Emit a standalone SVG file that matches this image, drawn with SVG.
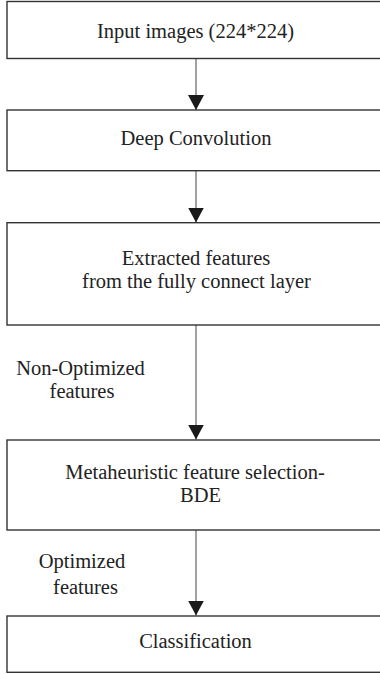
<svg xmlns="http://www.w3.org/2000/svg" width="380" height="674" viewBox="0 0 380 674">
<style>
.box{fill:#fff;stroke:#333;stroke-width:1.4}
.lbl{font-family:"Liberation Serif","DejaVu Serif",serif;font-size:20.5px;fill:#222;text-anchor:middle}
.conn{stroke:#444;stroke-width:1;fill:none;marker-end:url(#ah)}
</style>
<defs>
<marker id="ah" markerUnits="userSpaceOnUse" markerWidth="15" markerHeight="16" viewBox="0 0 15 16" refX="15" refY="8" orient="auto">
<path d="M0,0 L15,8 L0,16 Z" fill="#1a1a1a"/>
</marker>
</defs>
<rect width="380" height="674" fill="#fff"/>
<g id="connectors">
<line class="conn" x1="196" y1="59" x2="196" y2="110"/>
<line class="conn" x1="196" y1="171" x2="196" y2="222.5"/>
<line class="conn" x1="196" y1="325" x2="196" y2="439.5"/>
<line class="conn" x1="196" y1="530" x2="196" y2="615.5"/>
</g>
<g id="input">
<rect class="box" x="7" y="1.5" width="400" height="57"/>
<text class="lbl" x="195.5" y="38">Input images (224*224)</text>
</g>
<g id="deepconv">
<rect class="box" x="7" y="110" width="400" height="60.7"/>
<text class="lbl" x="196" y="145">Deep Convolution</text>
</g>
<g id="extracted">
<rect class="box" x="7" y="222.7" width="400" height="102.3"/>
<text class="lbl" x="196" y="265">Extracted features</text>
<text class="lbl" x="196.5" y="288">from the fully connect layer</text>
</g>
<g id="nonopt-label">
<text class="lbl" x="80.5" y="375">Non-Optimized</text>
<text class="lbl" x="82" y="398">features</text>
</g>
<g id="bde">
<rect class="box" x="7" y="440" width="400" height="90"/>
<text class="lbl" x="195" y="479">Metaheuristic feature selection-</text>
<text class="lbl" x="200.5" y="502">BDE</text>
</g>
<g id="opt-label">
<text class="lbl" x="82" y="568">Optimized</text>
<text class="lbl" x="85.5" y="594">features</text>
</g>
<g id="classification">
<rect class="box" x="7" y="616" width="400" height="56.3"/>
<text class="lbl" x="195.5" y="648">Classification</text>
</g>
</svg>
